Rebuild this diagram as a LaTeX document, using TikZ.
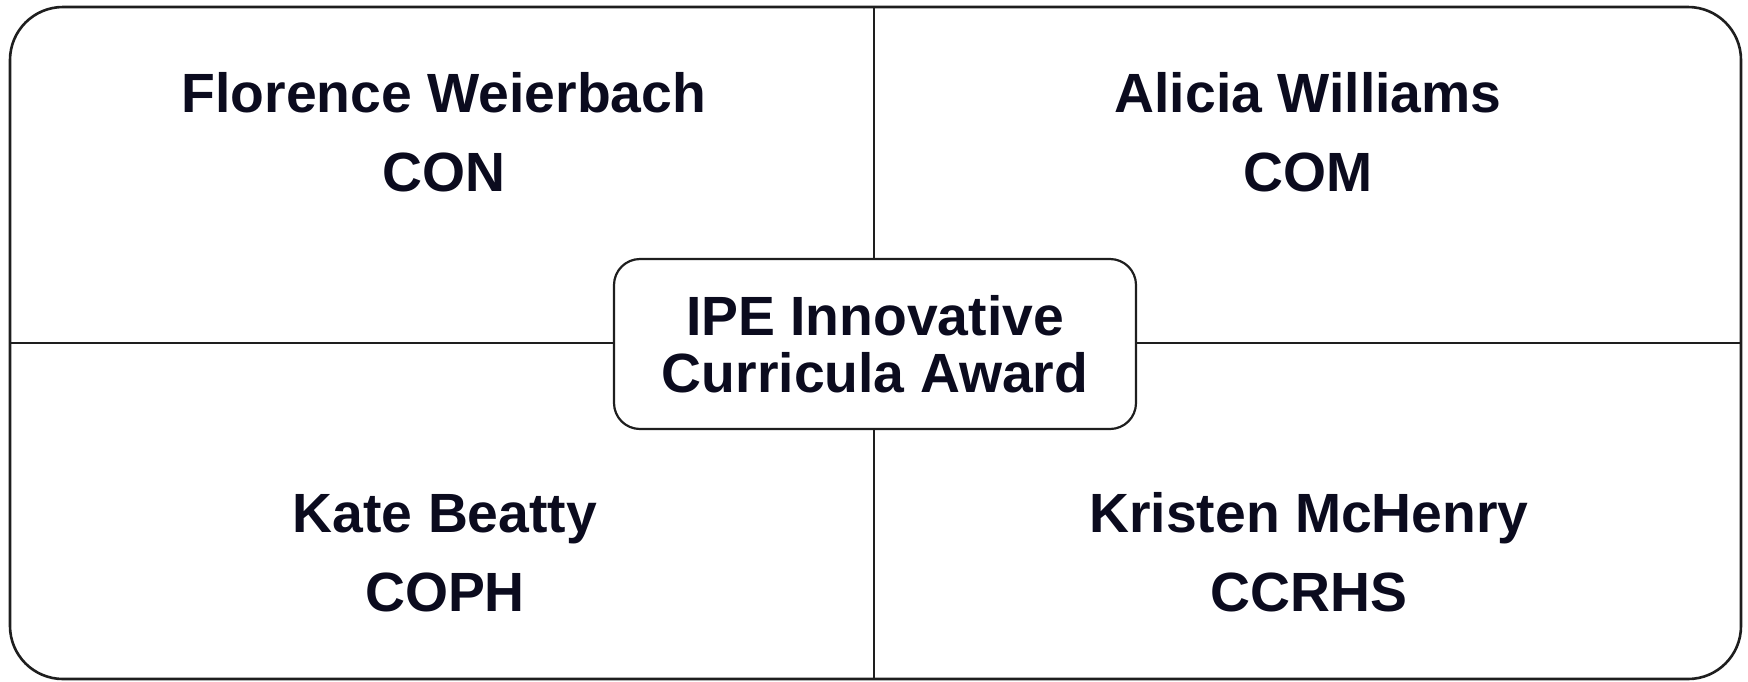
\documentclass[tikz,border=0pt]{standalone}
\usepackage{fontspec}
\setmainfont{Liberation Sans}
\definecolor{inkblue}{HTML}{0B0B1E}
\definecolor{rule}{HTML}{1E1E1E}
\begin{document}
\begin{tikzpicture}[x=1pt,y=-1pt,
  frame/.style={draw=rule,line width=2.6pt,rounded corners=53pt,
    minimum width=1731pt,minimum height=672pt,inner sep=0pt},
  centerbox/.style={draw=rule,line width=2.2pt,fill=white,rounded corners=26pt,
    minimum width=522pt,minimum height=170pt,inner sep=0pt,align=center,
    text=inkblue,font=\bfseries\fontsize{55.3}{57}\selectfont},
  divider/.style={draw=rule,line width=2pt},
  label/.style={anchor=base,inner sep=0pt,text=inkblue,
    font=\bfseries\fontsize{55.3}{60}\selectfont}]
  \useasboundingbox (0,0) rectangle (1748,681);

  % outer rounded frame
  \node[frame] (outer) at (875.5,343) {};

  % dividing cross, interrupted by the central box
  \coordinate (topmid) at (874,7);
  \coordinate (botmid) at (874,679);
  \coordinate (leftmid) at (10,343);
  \coordinate (rightmid) at (1741,343);
  \draw[divider] (topmid) -- (botmid);
  \draw[divider] (leftmid) -- (rightmid);

  % central award box
  \node[centerbox] (award) at (875,344) {IPE Innovative\\Curricula Award};

  % quadrant labels
  \node[label] (nameTL) at (444,112.6) {Florence Weierbach};
  \node[label] (colTL)  at (444,191.7) {CON};
  \node[label] (nameTR) at (1308,112.6) {Alicia Williams};
  \node[label] (colTR)  at (1308,191.7) {COM};
  \node[label] (nameBL) at (445,532.5) {Kate Beatty};
  \node[label] (colBL)  at (445,611.7) {COPH};
  \node[label] (nameBR) at (1309,532.5) {Kristen McHenry};
  \node[label] (colBR)  at (1309,611.7) {CCRHS};
\end{tikzpicture}
\end{document}
